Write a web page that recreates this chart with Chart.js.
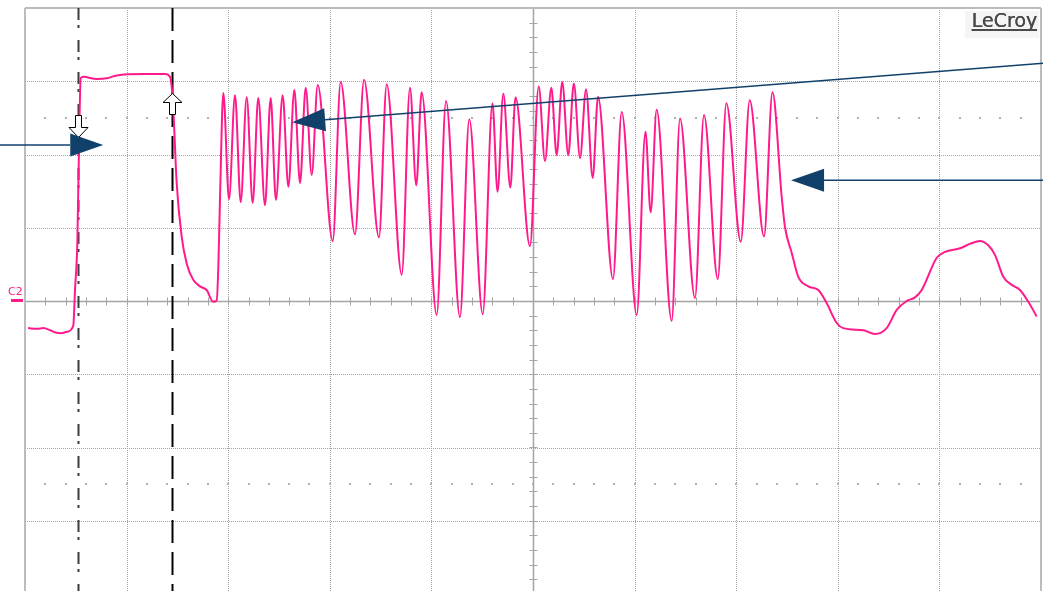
<!DOCTYPE html>
<html>
<head>
<meta charset="utf-8">
<script src="https://cdn.jsdelivr.net/npm/chart.js@4.4.0/dist/chart.umd.min.js"></script>
<style>
  html, body { margin: 0; padding: 0; background: #fff; overflow: hidden; }
  #marco { position: relative; width: 1043px; height: 591px; overflow: hidden; }
  canvas { display: block; }
</style>
</head>
<body>
<div id="marco"><canvas id="osciloscopio" width="1043" height="600" style="width:1043px;height:600px"></canvas></div>
<script>
/* Traza C2 (tiempo en divisiones, tension en divisiones) */
var tiempos = [
  0.03, 0.12, 0.18, 0.25, 0.30, 0.36, 0.41, 0.475, 0.492, 0.515, 0.531, 0.548, 0.574, 0.706, 0.804, 0.903,
  1.164, 1.263, 1.378, 1.427, 1.444, 1.460, 1.493, 1.542, 1.592, 1.656, 1.722, 1.788, 1.853, 1.887, 1.903, 1.919,
  1.952, 2.008, 2.067, 2.123, 2.182, 2.241, 2.296, 2.362, 2.418, 2.470, 2.536, 2.592, 2.651, 2.707, 2.763, 2.822, 2.881,
  3.029, 3.107, 3.248, 3.337, 3.484, 3.560, 3.708, 3.789, 3.851, 3.904, 4.052, 4.144, 4.281, 4.373, 4.505, 4.601,
  4.651, 4.708, 4.777, 4.828, 4.970, 5.056, 5.118, 5.180, 5.233, 5.288, 5.347, 5.402, 5.463, 5.522, 5.588, 5.640,
  5.787, 5.873, 6.021, 6.107, 6.158, 6.217, 6.365, 6.447, 6.594, 6.683, 6.819, 6.903, 7.045, 7.133, 7.274, 7.357,
  7.448, 7.480, 7.546, 7.611, 7.710, 7.808, 7.891, 7.989, 8.054, 8.251, 8.366, 8.481, 8.580, 8.678, 8.760, 8.826,
  8.974, 9.055, 9.203, 9.301, 9.400, 9.481, 9.547, 9.629, 9.712, 9.793, 9.875, 9.957
];
var tensiones = [
  -0.37, -0.38, -0.37, -0.40, -0.43, -0.44, -0.42, -0.34, 0.15, 0.79, 2.06, 3.04, 3.06, 3.03, 3.04, 3.08,
  3.10, 3.10, 3.10, 3.06, 2.92, 2.61, 1.61, 0.88, 0.51, 0.29, 0.20, 0.15, -0.01, 0.01, 0.47, 1.38,
  2.84, 1.39, 2.81, 1.35, 2.78, 1.34, 2.77, 1.31, 2.77, 1.38, 2.81, 1.56, 2.88, 1.61, 2.91, 1.72, 2.95,
  0.82, 2.99, 0.91, 3.02, 0.87, 2.96, 0.36, 2.91, 1.58, 2.85, -0.19, 2.73, -0.22, 2.48, -0.18, 2.70,
  1.49, 2.83, 1.55, 2.78, 0.75, 2.93, 1.91, 2.91, 1.99, 2.99, 1.99, 2.97, 1.95, 2.89, 1.68, 2.79,
  0.30, 2.58, -0.19, 2.31, 1.21, 2.61, -0.27, 2.49, 0.04, 2.54, 0.30, 2.70, 0.81, 2.74, 0.88, 2.85,
  1.42, 1.01, 0.66, 0.33, 0.20, 0.15, -0.03, -0.30, -0.37, -0.40, -0.45, -0.37, -0.12, 0.00, 0.05, 0.15,
  0.59, 0.67, 0.72, 0.78, 0.82, 0.76, 0.63, 0.33, 0.22, 0.15, -0.01, -0.21
];

/* Divisiones de la rejilla */
var divisionesX = [0, 1, 2, 3, 4, 5, 6, 7, 8, 9, 10];
var divisionesY = [-4, -3, -2, -1, 0, 1, 2, 3, 4];

/* Cursores verticales */
var cursores = [0.522, 1.45];

/* Flechas de anotacion: [t cola, v cola, t punta, v punta] */
var flechas = [
  [-0.25, 2.13, 0.77, 2.13],
  [10.05, 3.25, 2.63, 2.44],
  [10.05, 1.65, 7.54, 1.65]
];

var puntos = tiempos.map(function (t, i) { return { x: t, y: tensiones[i] }; });

function linea(ctx, x1, y1, x2, y2) {
  ctx.beginPath();
  ctx.moveTo(x1, y1);
  ctx.lineTo(x2, y2);
  ctx.stroke();
}

var pantalla = {
  id: 'pantalla',
  beforeDatasetsDraw: function (chart) {
    var ctx = chart.ctx, a = chart.chartArea, x = chart.scales.x, y = chart.scales.y;
    ctx.save();
    // rejilla punteada
    ctx.strokeStyle = '#a6a6a6';
    ctx.lineWidth = 1;
    ctx.setLineDash([1, 1]);
    divisionesX.forEach(function (t) {
      var px = Math.round(x.getPixelForValue(t)) + 0.5;
      linea(ctx, px, a.top, px, a.bottom);
    });
    divisionesY.forEach(function (v) {
      var py = Math.round(y.getPixelForValue(v)) + 0.5;
      linea(ctx, a.left, py, a.right, py);
    });
    ctx.setLineDash([]);

    // filas de puntos a +-2.5 divisiones
    ctx.fillStyle = '#b0b0b0';
    [2.5, -2.5].forEach(function (v) {
      var py = Math.round(y.getPixelForValue(v));
      for (var t = 0.2; t < 10; t += 0.2) {
        ctx.fillRect(Math.round(x.getPixelForValue(t)) - 1, py - 1, 2, 2);
      }
    });

    // ejes centrales con marcas menores
    var cx = Math.round(x.getPixelForValue(5)) + 0.5;
    var cy = Math.round(y.getPixelForValue(0)) + 0.5;
    ctx.strokeStyle = '#a4a4a4';
    ctx.lineWidth = 1.5;
    linea(ctx, a.left, cy, a.right, cy);
    linea(ctx, cx, a.top, cx, a.bottom);
    ctx.lineWidth = 1;
    for (var t = 0.2; t < 10; t += 0.2) {
      var px = Math.round(x.getPixelForValue(t)) + 0.5;
      linea(ctx, px, cy - 4, px, cy + 4);
    }
    for (var v = -3.8; v < 4; v += 0.2) {
      var py = Math.round(y.getPixelForValue(v)) + 0.5;
      linea(ctx, cx - 4, py, cx + 4, py);
    }

    // marco
    ctx.strokeStyle = '#bcbcbc';
    ctx.lineWidth = 2;
    linea(ctx, a.left, a.top, a.right, a.top);
    linea(ctx, a.left, a.top, a.left, a.bottom);
    linea(ctx, a.right, a.top, a.right, a.bottom);

    // cursores
    var c1 = Math.round(x.getPixelForValue(cursores[0])) + 0.5;
    ctx.strokeStyle = '#3c3c3c';
    ctx.lineWidth = 2;
    ctx.setLineDash([12, 5, 3, 12]);
    linea(ctx, c1, a.top, c1, a.bottom);
    var c2 = Math.round(x.getPixelForValue(cursores[1])) + 0.5;
    ctx.strokeStyle = '#000';
    ctx.setLineDash([23, 9]);
    linea(ctx, c2, a.top, c2, a.bottom);
    ctx.restore();
  },
  afterDatasetsDraw: function (chart) {
    var ctx = chart.ctx, a = chart.chartArea, x = chart.scales.x, y = chart.scales.y;
    ctx.save();
    // marcadores huecos de los cursores
    ctx.fillStyle = '#fff';
    ctx.strokeStyle = '#000';
    ctx.lineWidth = 1;
    var c1 = Math.round(x.getPixelForValue(cursores[0])) + 0.5;
    var p1 = Math.round(y.getPixelForValue(2.24)) + 0.5;
    ctx.beginPath();
    ctx.moveTo(c1 - 3, p1 - 22);
    ctx.lineTo(c1 + 3, p1 - 22);
    ctx.lineTo(c1 + 3, p1 - 10);
    ctx.lineTo(c1 + 9.5, p1 - 10);
    ctx.lineTo(c1, p1);
    ctx.lineTo(c1 - 9.5, p1 - 10);
    ctx.lineTo(c1 - 3, p1 - 10);
    ctx.closePath();
    ctx.fill();
    ctx.stroke();
    var c2 = Math.round(x.getPixelForValue(cursores[1])) + 0.5;
    var p2 = Math.round(y.getPixelForValue(2.84)) + 0.5;
    ctx.beginPath();
    ctx.moveTo(c2 - 3, p2 + 21);
    ctx.lineTo(c2 + 3, p2 + 21);
    ctx.lineTo(c2 + 3, p2 + 9);
    ctx.lineTo(c2 + 9.5, p2 + 9);
    ctx.lineTo(c2, p2);
    ctx.lineTo(c2 - 9.5, p2 + 9);
    ctx.lineTo(c2 - 3, p2 + 9);
    ctx.closePath();
    ctx.fill();
    ctx.stroke();

    // flechas azules
    ctx.strokeStyle = '#11406b';
    ctx.fillStyle = '#11406b';
    ctx.lineWidth = 1.5;
    flechas.forEach(function (f) {
      var x1 = x.getPixelForValue(f[0]), y1 = y.getPixelForValue(f[1]);
      var x2 = x.getPixelForValue(f[2]), y2 = y.getPixelForValue(f[3]);
      var ang = Math.atan2(y2 - y1, x2 - x1);
      var largo = 33, ancho = 11.5;
      var bx = x2 - largo * Math.cos(ang), by = y2 - largo * Math.sin(ang);
      linea(ctx, x1, y1, bx, by);
      ctx.beginPath();
      ctx.moveTo(x2, y2);
      ctx.lineTo(bx + ancho * Math.sin(ang), by - ancho * Math.cos(ang));
      ctx.lineTo(bx - ancho * Math.sin(ang), by + ancho * Math.cos(ang));
      ctx.closePath();
      ctx.fill();
    });

    // logotipo
    ctx.fillStyle = '#f5f5f5';
    ctx.fillRect(a.right - 76, a.top + 3, 74, 27);
    ctx.fillStyle = '#4a4a4a';
    ctx.font = '19px "DejaVu Sans"';
    ctx.textAlign = 'right';
    ctx.textBaseline = 'alphabetic';
    ctx.fillText('LeCroy', a.right - 4, a.top + 19);
    ctx.fillText('LeCroy', a.right - 3.6, a.top + 19);
    var w = ctx.measureText('LeCroy').width;
    ctx.fillRect(a.right - 4 - w, a.top + 21, w, 2);

    // etiqueta del canal
    var cy = y.getPixelForValue(0);
    ctx.fillStyle = '#ff1a8c';
    ctx.font = '11px "DejaVu Sans"';
    ctx.textAlign = 'left';
    ctx.fillText('C2', 8, cy - 6);
    ctx.fillRect(11, cy - 2, 12, 3);
    ctx.restore();
  }
};

var marco = document.getElementById('osciloscopio').getContext('2d');

var grafico = new Chart(marco, {
  type: 'line',
  data: {
    datasets: [{
      label: 'C2',
      data: puntos,
      borderColor: '#ff1a8c',
      borderWidth: 2,
      pointRadius: 0,
      fill: false,
      cubicInterpolationMode: 'monotone'
    }]
  },
  options: {
    responsive: false,
    animation: false,
    devicePixelRatio: 1,
    layout: { padding: { left: 25, top: 8, right: 2, bottom: 6 } },
    plugins: { legend: { display: false }, tooltip: { enabled: false } },
    scales: {
      x: { type: 'linear', min: 0, max: 10, display: false },
      y: { type: 'linear', min: -4, max: 4, display: false }
    }
  },
  plugins: [pantalla]
});
</script>
</body>
</html>
